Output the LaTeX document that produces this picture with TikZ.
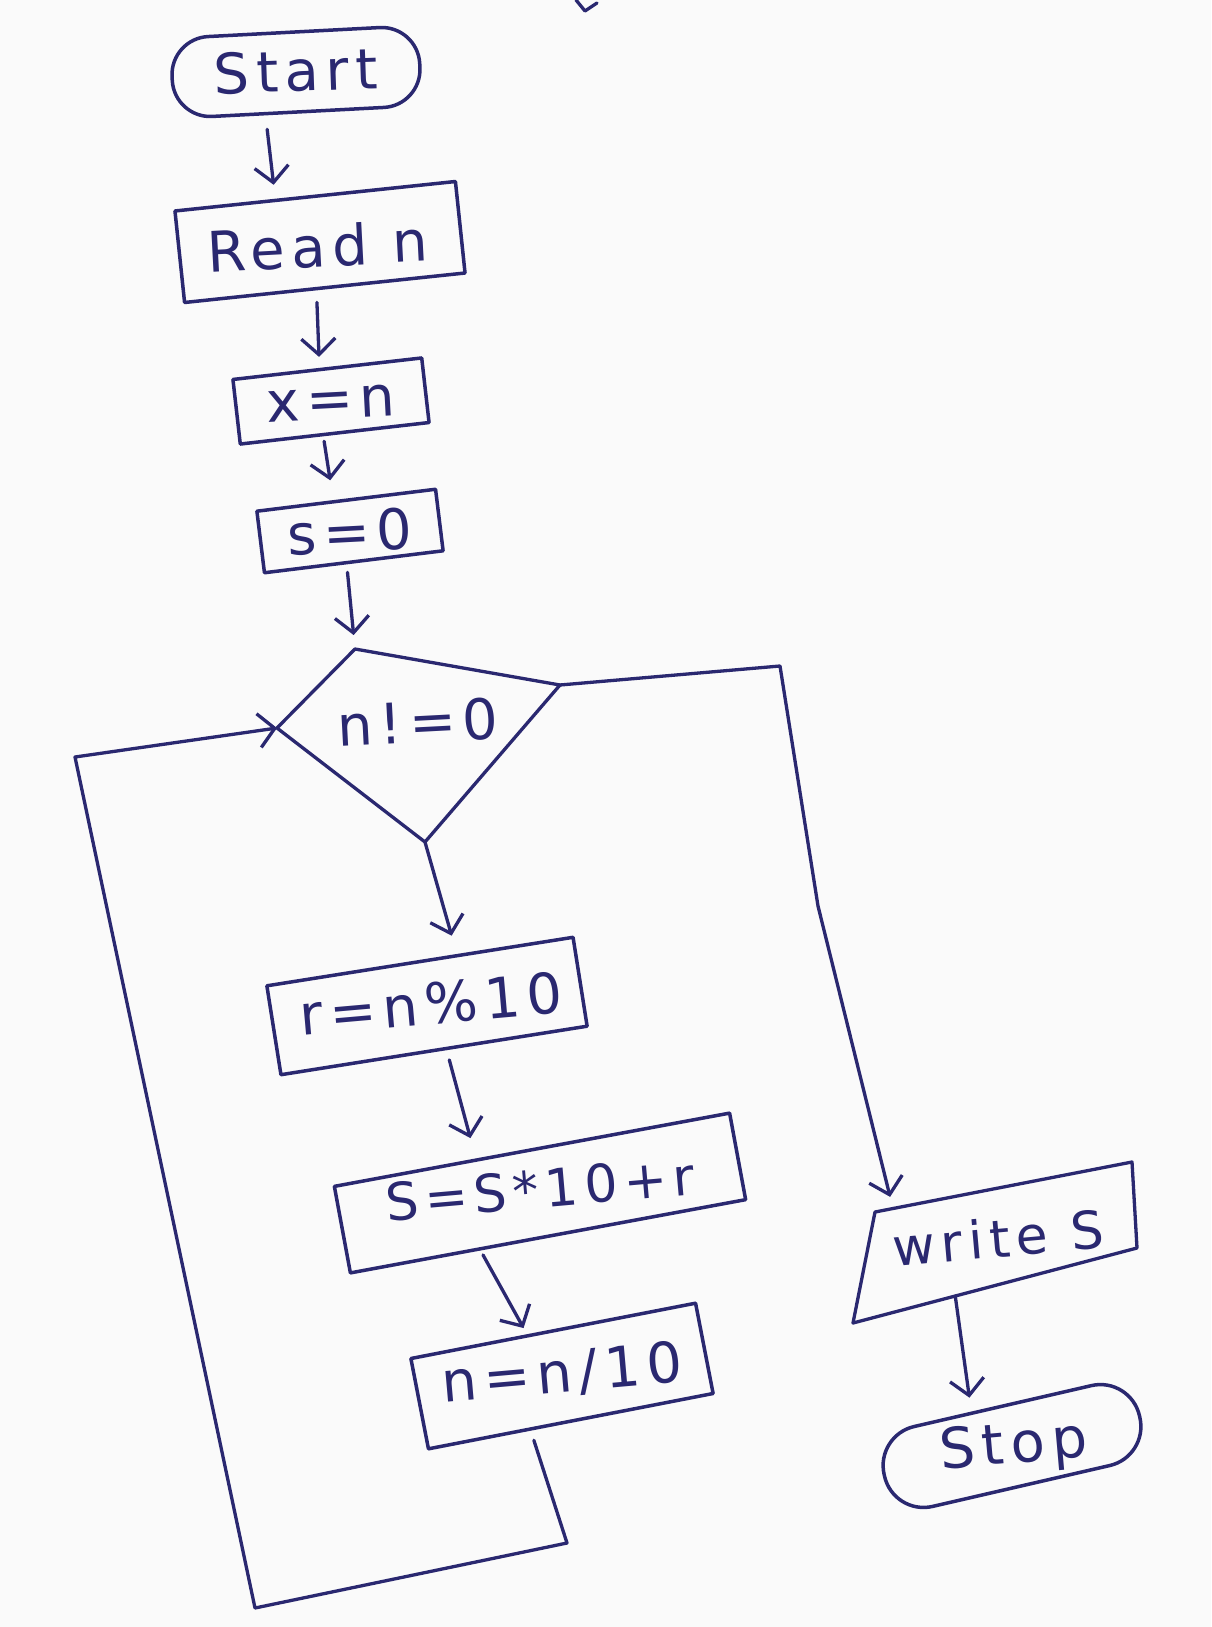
\documentclass[tikz,border=0pt]{standalone}
\usepackage{fontspec}
\setmainfont{DejaVu Sans}[LetterSpace=12]
\usetikzlibrary{arrows.meta,calc}
\definecolor{ink}{RGB}{42,40,112}
\definecolor{paper}{RGB}{250,250,250}
\begin{document}
\begin{tikzpicture}[x=1pt,y=-1pt,
  every node/.style={font=\fontsize{56}{66}\selectfont, text=ink},
  box/.style={draw=ink, line width=3.5pt, rectangle, inner sep=0pt, line join=round},
  lbl/.style={inner sep=0pt},
  conn/.style={draw=ink, line width=3.3pt, -{Straight Barb[length=16pt,width=34pt]}, line cap=round, line join=round},
  wire/.style={draw=ink, line width=3.3pt, line cap=round, line join=round}]
\fill[paper] (0,0) rectangle (1211,1627);
\useasboundingbox (0,0) rectangle (1211,1627);

% stray mark at the top edge
\draw[wire] (576,0) -- (585,11) -- (597,3);

% process boxes (shape) and their texts
\node[box, rounded corners=38pt, minimum width=248pt, minimum height=80pt, rotate=3] (start) at (296,72) {};
\node[lbl, rotate=2] (startt) at (296,71) {Start};
\node[box, minimum width=282pt, minimum height=92pt, rotate=6] (read) at (320,242) {};
\node[lbl, rotate=3] (readt) at (318,246) {Read n};
\node[box, minimum width=190pt, minimum height=65pt, rotate=6.5] (xn) at (331,401) {};
\node[lbl, rotate=3] (xnt) at (331,403) {x=n};
\node[box, minimum width=180pt, minimum height=62pt, rotate=7] (s0) at (350,531) {};
\node[lbl, rotate=3] (s0t) at (350,532) {s=0};

% decision
\coordinate (dL) at (277,728);
\coordinate (dT) at (355,649);
\coordinate (dR) at (560,685);
\coordinate (dB) at (425,842);
\draw[wire] (dL) -- (dT) -- (dR) -- (dB) -- cycle;
\node[lbl, rotate=3] (cond) at (418,722) {n!=0};

\node[box, minimum width=310pt, minimum height=90pt, rotate=9] (rb) at (427,1006) {};
\node[lbl, rotate=5] (rbt) at (431,1004) {r=n\%10};
\node[box, minimum width=402pt, minimum height=88pt, rotate=10.5] (sb) at (540,1193) {};
\node[lbl, rotate=5, font=\fontsize{52}{60}\selectfont] (sbt) at (540,1189) {S=S*10+r};
\node[box, minimum width=290pt, minimum height=92pt, rotate=11] (nb) at (562,1376) {};
\node[lbl, rotate=5] (nbt) at (562,1374) {n=n/10};

% output
\coordinate (wTL) at (875,1212);
\coordinate (wTR) at (1132,1162);
\coordinate (wBR) at (1137,1248);
\coordinate (wBL) at (853,1323);
\draw[wire] (wTL) -- (wTR) -- (wBR) -- (wBL) -- cycle;
\node[lbl, rotate=5, font=\fontsize{52}{60}\selectfont] (wr) at (998,1238) {write S};

\node[box, rounded corners=40pt, minimum width=262pt, minimum height=82pt, rotate=13] (stop) at (1012,1446) {};
\node[lbl, rotate=5] (stopt) at (1014,1448) {Stop};

% loop and branch corners
\coordinate (l1) at (567,1543);
\coordinate (l2) at (255,1608);
\coordinate (l3) at (75,757);
\coordinate (r1) at (780,666);
\coordinate (r2) at (818,906);

% connectors
\draw[conn, shorten <=14pt, shorten >=14pt] ($(start.south west)!0.37!(start.south east)$) -- ($(read.north west)!0.36!(read.north east)$);
\draw[conn, shorten <=12pt, shorten >=11pt] ($(read.south west)!0.47!(read.south east)$) -- ($(xn.north west)!0.46!(xn.north east)$);
\draw[conn, shorten <=5pt, shorten >=20pt] ($(xn.south west)!0.44!(xn.south east)$) -- ($(s0.north west)!0.43!(s0.north east)$);
\draw[conn, shorten <=8pt, shorten >=14pt] ($(s0.south west)!0.46!(s0.south east)$) -- (dT);
\draw[conn, shorten >=19pt] (dB) -- ($(rb.north west)!0.62!(rb.north east)$);
\draw[conn, shorten <=10pt, shorten >=21pt] ($(rb.south west)!0.54!(rb.south east)$) -- ($(sb.north west)!0.36!(sb.north east)$);
\draw[conn, shorten <=5pt, shorten >=7pt] ($(sb.south west)!0.33!(sb.south east)$) -- ($(nb.north west)!0.41!(nb.north east)$);
\draw[conn, shorten <=10pt] ($(nb.south west)!0.36!(nb.south east)$) -- (l1) -- (l2) -- (l3) -- (dL);
\draw[conn, shorten >=12pt] (dR) -- (r1) -- (r2) -- ($(wTL)!0.07!(wTR)$);
\draw[conn, shorten >=14pt] ($(wBL)!0.36!(wBR)$) -- ($(stop.north west)!0.38!(stop.north east)$);
\end{tikzpicture}
\end{document}
